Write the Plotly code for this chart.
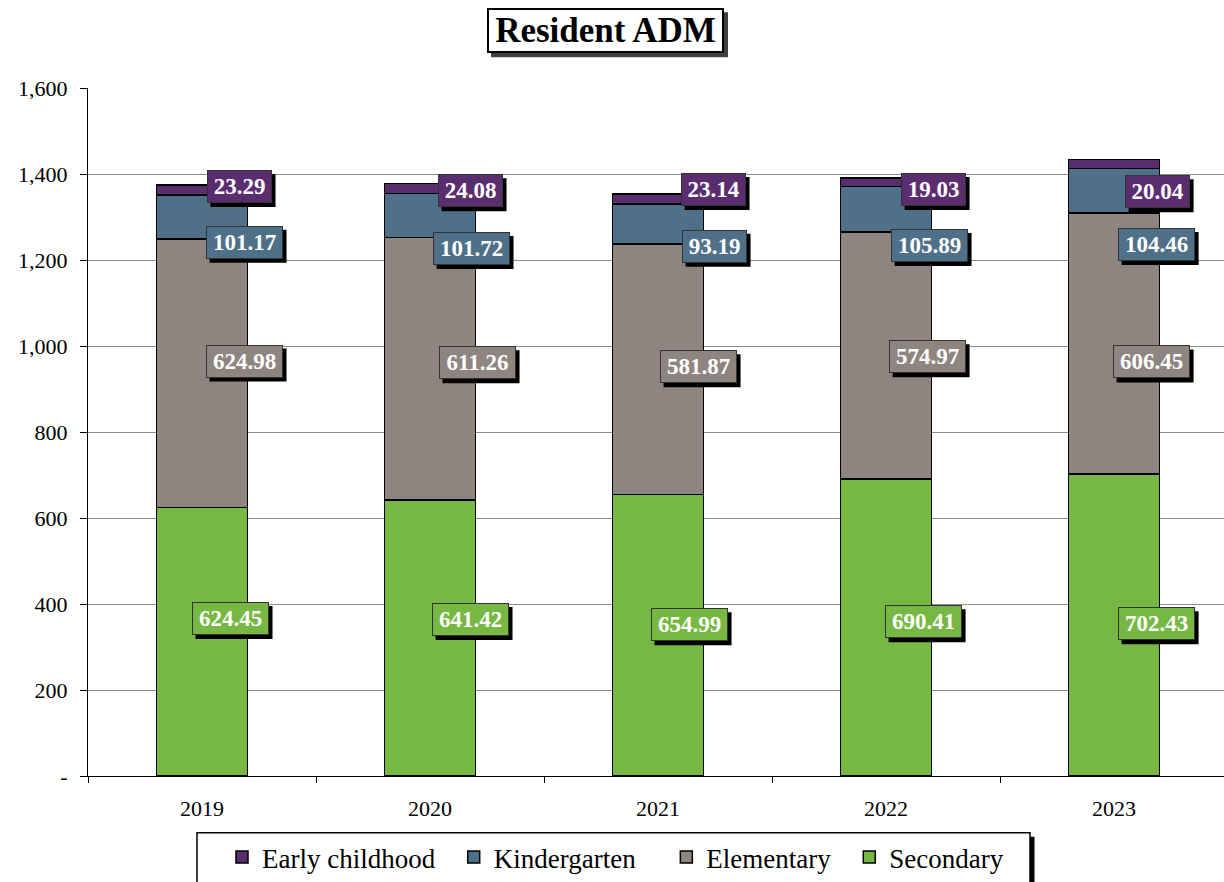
import plotly.graph_objects as go

years = ["2019", "2020", "2021", "2022", "2023"]
secondary = [624.45, 641.42, 654.99, 690.41, 702.43]
elementary = [624.98, 611.26, 581.87, 574.97, 606.45]
kindergarten = [101.17, 101.72, 93.19, 105.89, 104.46]
early = [23.29, 24.08, 23.14, 19.03, 20.04]
y_tickvals = [0, 200, 400, 600, 800, 1000, 1200, 1400, 1600]
y_ticktext = ["-", "200", "400", "600", "800", "1,000", "1,200", "1,400", "1,600"]

# label placement (data-unit heights and pixel x shifts) - styling only
label_y = {
    "Secondary": [366, 364, 352, 359, 354],
    "Elementary": [965, 961, 952, 975, 963],
    "Kindergarten": [1241, 1227, 1232, 1234, 1236],
    "Early childhood": [1371, 1361, 1364, 1364, 1359],
}
label_dx = {
    "Secondary": [28, 40, 31, 37, 42],
    "Elementary": [42, 47, 40, 41, 37],
    "Kindergarten": [42, 41, 56, 43, 42],
    "Early childhood": [37, 40, 55, 47, 43],
}

series = [
    ("Secondary", secondary, "#76B843"),
    ("Elementary", elementary, "#8E8580"),
    ("Kindergarten", kindergarten, "#4E7088"),
    ("Early childhood", early, "#5A2D6E"),
]
NB = "\u00a0"
legend_pad = {"Secondary": "", "Elementary": NB * 2,
              "Kindergarten": NB * 3 + "\u2009", "Early childhood": NB * 2}

SERIF = "Liberation Serif, Times New Roman, serif"

# pixel -> paper helpers (plot area: x 88..1224, y 88..779)
def px(xp):
    return (xp - 88) / 1136.0

def py(yp):
    return (779 - yp) / 691.0

fig = go.Figure()
for name, vals, col in series:
    fig.add_trace(go.Bar(
        x=list(range(len(years))), y=vals, name=name + legend_pad[name], width=0.4,
        marker=dict(color=col, line=dict(color="black", width=1.5)),
        hoverinfo="skip",
    ))

annotations = []
shapes = []
LBL_H = 31
for name, vals, col in series:
    for i, v in enumerate(vals):
        txt = "%.2f" % v
        w = 63 if len(txt) <= 5 else 75
        dx = label_dx[name][i]
        shapes.append(dict(type="rect", xref="x", yref="y",
                           xsizemode="pixel", ysizemode="pixel",
                           xanchor=i, yanchor=label_y[name][i],
                           x0=dx - w / 2 - 1 + 4, x1=dx + w / 2 + 1 + 4,
                           y0=-LBL_H / 2 - 1 - 4, y1=LBL_H / 2 + 1 - 4,
                           fillcolor="black", line=dict(width=0), layer="above"))
        annotations.append(dict(x=i, y=label_y[name][i], xref="x", yref="y",
                                xanchor="center", yanchor="middle",
                                text="<b>%s</b>" % txt, showarrow=False,
                                width=w, height=LBL_H, borderpad=0,
                                borderwidth=1, xshift=dx,
                                bgcolor=col, bordercolor="#333333",
                                font=dict(family=SERIF, size=23, color="white")))

# title with shadow
TW, TH = 233, 41
shapes.append(dict(type="rect", xref="paper", yref="paper",
                   x0=px(605.5 - TW / 2 - 2 + 4), x1=px(605.5 + TW / 2 + 2 + 4),
                   y0=py(30.5 + TH / 2 + 2 + 4), y1=py(30.5 - TH / 2 - 2 + 4),
                   fillcolor="#404040", line=dict(width=0), layer="above"))
annotations.append(dict(x=px(605.5), y=py(30.5), xref="paper", yref="paper",
                        xanchor="center", yanchor="middle",
                        text="<b>Resident ADM</b>", showarrow=False,
                        width=TW, height=TH, borderpad=0, borderwidth=2,
                        bgcolor="white", bordercolor="black",
                        font=dict(family=SERIF, size=35, color="black")))

# legend shadow and box
shapes.append(dict(type="rect", xref="paper", yref="paper", x0=px(201), x1=px(1034.5),
                   y0=py(840), y1=py(900), fillcolor="black", line=dict(width=0),
                   layer="above"))
shapes.append(dict(type="rect", xref="paper", yref="paper", x0=px(197), x1=px(1030),
                   y0=py(836), y1=py(900), fillcolor="white",
                   line=dict(color="black", width=1.5), layer="above"))

fig.update_layout(
    width=1224, height=882,
    margin=dict(l=88, r=0, t=88, b=103),
    paper_bgcolor="white", plot_bgcolor="white",
    barmode="stack",
    showlegend=True,
    legend=dict(orientation="h", traceorder="reversed",
                x=px(222), y=py(861), xanchor="left", yanchor="middle",
                font=dict(family=SERIF, size=27, color="black"),
                borderwidth=0, bgcolor="rgba(0,0,0,0)"),
    annotations=annotations,
    shapes=shapes,
    xaxis=dict(range=[-0.5, 4.482], tickvals=list(range(len(years))),
               ticktext=years, ticks="",
               showline=True, linecolor="black", linewidth=1.2,
               showgrid=False, zeroline=False,
               minor=dict(tickvals=[-0.5, 0.5, 1.5, 2.5, 3.5, 4.5],
                          ticks="outside", ticklen=6, tickcolor="black",
                          showgrid=False),
               ticklabelstandoff=12,
               tickfont=dict(family=SERIF, size=22, color="black")),
    yaxis=dict(range=[0, 1600], tickvals=y_tickvals, ticktext=y_ticktext,
               ticks="outside", ticklen=7, tickcolor="black",
               showline=True, linecolor="black", linewidth=1.2,
               showgrid=True, gridcolor="#8c8c8c", gridwidth=1,
               zeroline=False, ticklabelstandoff=8,
               tickfont=dict(family=SERIF, size=22, color="black")),
)

fig.write_html("out.html", config={"displayModeBar": False},
               post_script="document.body.style.margin='0';"
                           "document.body.style.overflow='hidden';")
